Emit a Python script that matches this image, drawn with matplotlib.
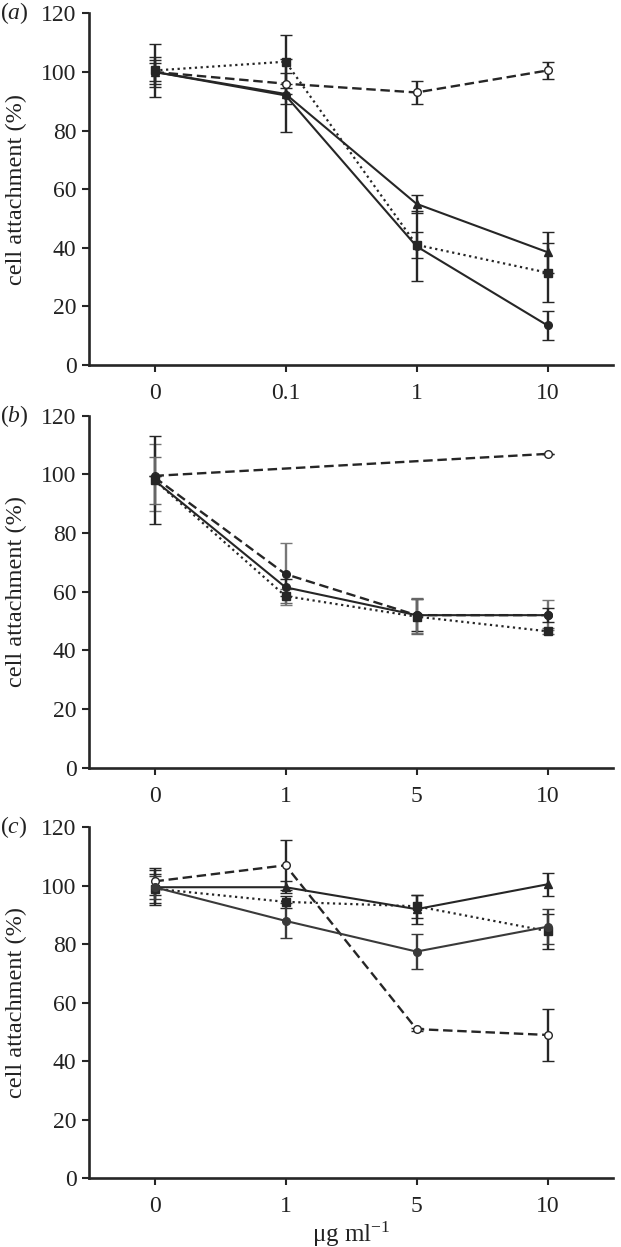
import numpy as np
import matplotlib
matplotlib.use("Agg")
import matplotlib.pyplot as plt

plt.rcParams['font.family'] = ['Liberation Serif', 'DejaVu Serif']
plt.rcParams['mathtext.fontset'] = 'custom'
plt.rcParams['mathtext.rm'] = 'Liberation Serif'
plt.rcParams['mathtext.it'] = 'Liberation Serif:italic'

# ---------------- data ----------------
a_ticks = ['0', '0.1', '1', '10']
a_ctrl = [100, 96, 93, 100.5];     a_ctrl_err = [4, 3.5, 4, 3]
a_sq   = [100.5, 103.5, 41, 31.5]; a_sq_err = [9, 9, 4.5, 10]
a_tri  = [100, 92.5, 55, 38.5];    a_tri_err = [3, 3.5, 3, 7]
a_circ = [100, 92, 40.5, 13.5];    a_circ_err = [5, 12.5, 12, 5]

b_ticks = ['0', '1', '5', '10']
b_ctrl = [99.5, None, None, 107];  b_ctrl_err = [0, 0, 0, 0]
b_dash = [99, 66, 52, 52];         b_dash_err = [11.5, 10.5, 6, 5]
b_solid = [98, 61.5, 52, 52];      b_solid_err = [15, 3, 5.5, 2.5]
b_sq = [98, 58.5, 51.5, 46.5];     b_sq_err = [8, 2.5, 6, 1]

c_ticks = ['0', '1', '5', '10']
c_ctrl = [101.5, 107, 51, 49];     c_ctrl_err = [4.5, 8.5, 0.5, 9]
c_tri = [99.5, 99.5, 92, 100.5];   c_tri_err = [6, 2, 5, 4]
c_sq = [99, 94.5, 93, 84.5];       c_sq_err = [5, 2, 4, 6]
c_circ = [99.5, 88, 77.5, 86];     c_circ_err = [4, 6, 6, 6]

DARK = '#262626'
DASH = (0, (4, 2))
DOT = (0, (1, 1.6))

fig = plt.figure(figsize=(6.21, 12.47), dpi=100)

L, W = 89 / 621, 524 / 621
positions = [
    (L, 0.7073, W, 0.282),
    (L, 0.3844, W, 0.2822),
    (L, 0.0551, W, 0.2815),
]


def series(ax, vals, errs, ls, marker, color=DARK, ecolor=None, mfc=None, ms=5.5, lw=1.5):
    xs = [i for i, v in enumerate(vals) if v is not None]
    ys = [vals[i] for i in xs]
    es = [errs[i] for i in xs]
    ax.errorbar(xs, ys, yerr=es, linestyle=ls, color=color, lw=lw,
                marker=marker, ms=ms, mfc=mfc if mfc else color, mec=color,
                mew=1.0, ecolor=ecolor if ecolor else color, elinewidth=1.7,
                capsize=4.5, capthick=1.7, zorder=3)


def style(ax, ticks, label):
    ax.set_xlim(-0.5, 3.5)
    ax.set_ylim(0, 120)
    ax.set_xticks(range(4))
    ax.set_xticklabels(ticks)
    ax.set_yticks(range(0, 121, 20))
    for s in ['top', 'right']:
        ax.spines[s].set_visible(False)
    for s in ['left', 'bottom']:
        ax.spines[s].set_linewidth(1.9)
        ax.spines[s].set_color(DARK)
    ax.tick_params(axis='both', direction='out', length=5, width=1.5,
                   color=DARK, labelsize=17, labelcolor='#222222', pad=4)
    ax.tick_params(axis='x', pad=8)
    ax.set_ylabel('cell attachment (%)', fontsize=17.5, color='#222222')
    ax.yaxis.set_label_coords(-0.118, 0.5)
    pos = ax.get_position()
    fig.text(0.0, pos.y1, label, fontsize=17, ha='left', va='center', color='#222222')


axa = fig.add_axes(positions[0])
series(axa, a_ctrl, a_ctrl_err, DASH, 'o', mfc='white', lw=1.7)
series(axa, a_sq, a_sq_err, DOT, 's', lw=1.6)
series(axa, a_tri, a_tri_err, '-', '^')
series(axa, a_circ, a_circ_err, '-', 'o')
style(axa, a_ticks, r'($\it{a}$)')

axb = fig.add_axes(positions[1])
series(axb, b_ctrl, b_ctrl_err, DASH, 'o', mfc='white', lw=1.7)
series(axb, b_dash, b_dash_err, DASH, 'o', ecolor='#777777', lw=1.7)
series(axb, b_solid, b_solid_err, '-', 'o')
series(axb, b_sq, b_sq_err, DOT, 's', ecolor='#666666', lw=1.6)
style(axb, b_ticks, r'($\it{b}$)')

axc = fig.add_axes(positions[2])
series(axc, c_ctrl, c_ctrl_err, DASH, 'o', mfc='white', lw=1.7)
series(axc, c_tri, c_tri_err, '-', '^')
series(axc, c_sq, c_sq_err, DOT, 's', lw=1.6)
series(axc, c_circ, c_circ_err, '-', 'o', color='#3a3a3a')
style(axc, c_ticks, r'($\it{c}$)')
axc.set_xlabel(r'μg ml$^{-1}$', fontsize=18, color='#222222')
axc.xaxis.set_label_coords(0.5, -0.118)

fig.savefig('out.png', dpi=100, facecolor='white')
